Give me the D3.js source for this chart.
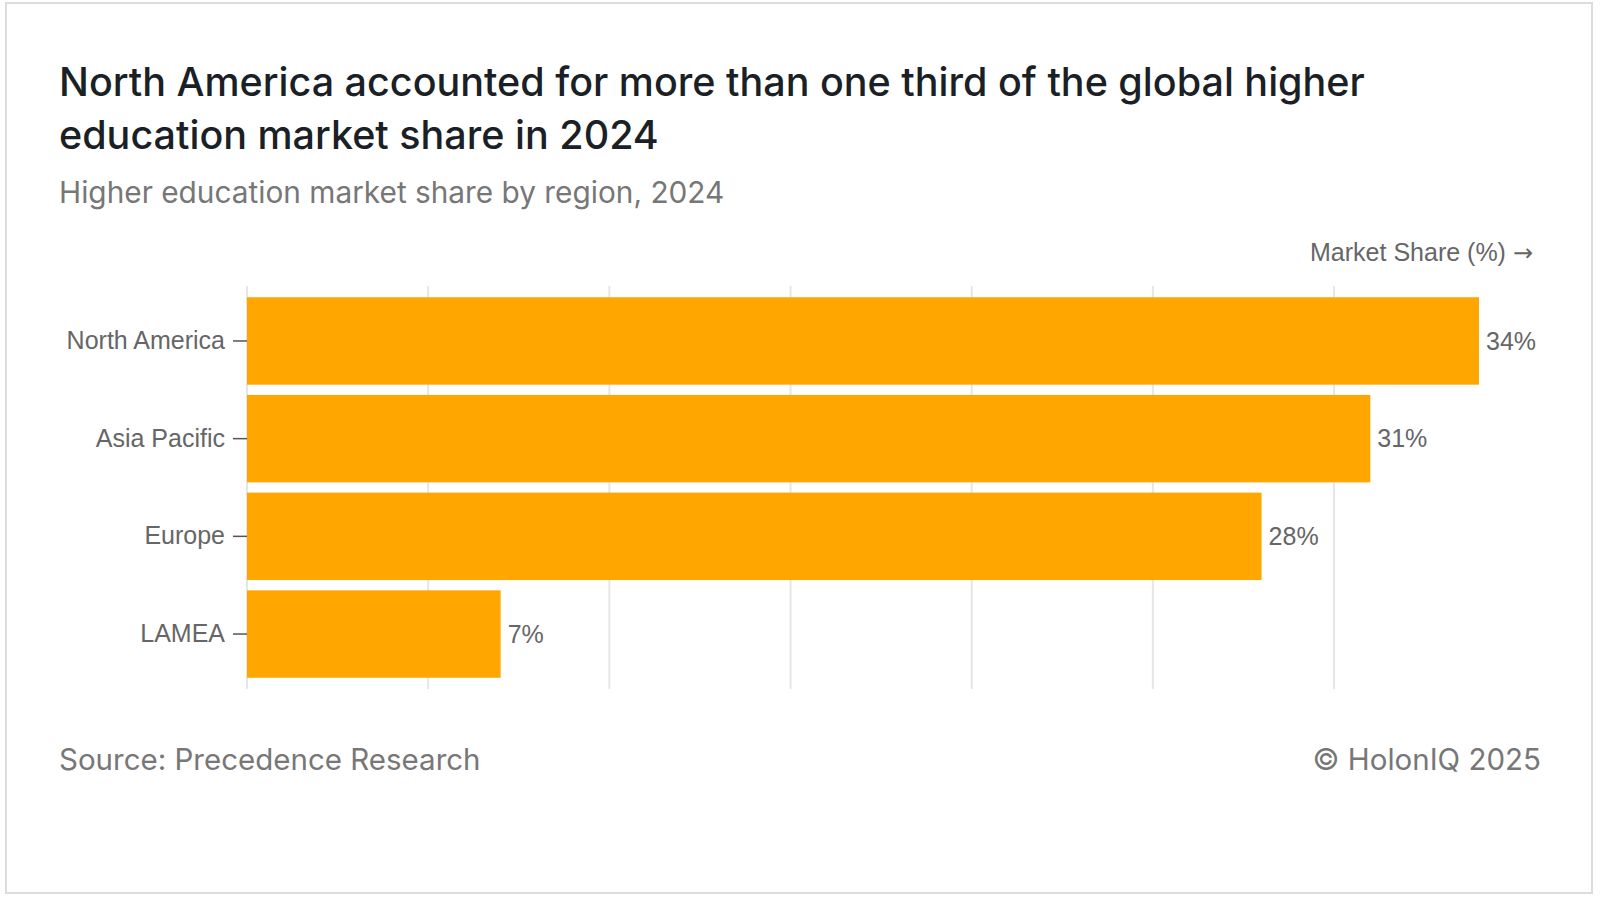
<!DOCTYPE html>
<html><head><meta charset="utf-8">
<script src="https://cdn.jsdelivr.net/npm/d3@7"></script>
<style>
html,body{margin:0;padding:0;background:#fff;}
svg{display:block;}
</style></head>
<body>
<script>
const regions = ["North America", "Asia Pacific", "Europe", "LAMEA"];
const shares = [34, 31, 28, 7];
const gridTicks = [0, 5, 10, 15, 20, 25, 30];
const titleLines = ["North America accounted for more than one third of the global higher", "education market share in 2024"];
const subtitle = "Higher education market share by region, 2024";
const axisLabel = "Market Share (%)";
const axisArrow = "→";
const sourceText = "Source: Precedence Research";
const creditText = "© HolonIQ 2025";

const W = 1600, H = 898;
const svg = d3.select("body").append("svg").attr("width", W).attr("height", H);

svg.append("rect").attr("x", 6).attr("y", 3).attr("width", 1586).attr("height", 890)
  .attr("fill", "#fff").attr("stroke", "#dcdcdc").attr("stroke-width", 2);

const headFont = "Inter, 'Noto Sans', sans-serif";
const axisFont = "'Liberation Sans', Arial, sans-serif";

svg.selectAll("text.title").data(titleLines).join("text").attr("class", "title")
  .attr("x", 59).attr("y", (d, i) => 96 + i * 53)
  .attr("font-family", headFont).attr("font-size", 39.5).attr("font-weight", 500)
  .attr("fill", "#1b1f26").text(d => d);

svg.append("text").attr("x", 59).attr("y", 203)
  .attr("font-family", headFont).attr("font-size", 29.8).attr("fill", "#777")
  .text(subtitle);

const x = d3.scaleLinear().domain([0, d3.max(shares)]).range([247, 1479]);
const y = d3.scaleBand().domain(regions).range([286, 689]).paddingInner(0.105).paddingOuter(0.115);

const lab = svg.append("text").attr("x", 1533).attr("y", 261).attr("text-anchor", "end")
  .attr("font-family", axisFont).attr("font-size", 25).attr("fill", "#666");
lab.append("tspan").text(axisLabel + " ");
lab.append("tspan").attr("font-family", "'DejaVu Sans', sans-serif").attr("font-size", 24).text(axisArrow);

svg.append("g").selectAll("line").data(gridTicks).join("line")
  .attr("x1", d => x(d)).attr("x2", d => x(d))
  .attr("y1", 286).attr("y2", 689)
  .attr("stroke", "#e6e6e6").attr("stroke-width", 2);

const data = regions.map((r, i) => ({region: r, value: shares[i]}));

svg.append("g").selectAll("rect").data(data).join("rect")
  .attr("x", x(0)).attr("y", d => y(d.region))
  .attr("width", d => x(d.value) - x(0)).attr("height", y.bandwidth())
  .attr("fill", "#FFA600");

const yAxis = svg.append("g").attr("transform", `translate(${x(0)},0)`)
  .call(d3.axisLeft(y).tickSize(14).tickPadding(8));
yAxis.select(".domain").remove();
yAxis.selectAll(".tick line").attr("stroke", "#555").attr("stroke-width", 1.5);
yAxis.selectAll(".tick text").attr("font-family", axisFont).attr("font-size", 25).attr("fill", "#666");

svg.append("g").selectAll("text").data(data).join("text")
  .attr("x", d => x(d.value) + 7).attr("y", d => y(d.region) + y.bandwidth() / 2)
  .attr("dy", "0.35em")
  .attr("font-family", axisFont).attr("font-size", 25).attr("fill", "#666")
  .text(d => d.value + "%");

svg.append("text").attr("x", 59).attr("y", 770)
  .attr("font-family", headFont).attr("font-size", 29.5).attr("fill", "#777")
  .text(sourceText);
svg.append("text").attr("x", 1541).attr("y", 770).attr("text-anchor", "end")
  .attr("font-family", headFont).attr("font-size", 29.5).attr("fill", "#777")
  .text(creditText);
</script>
</body></html>
